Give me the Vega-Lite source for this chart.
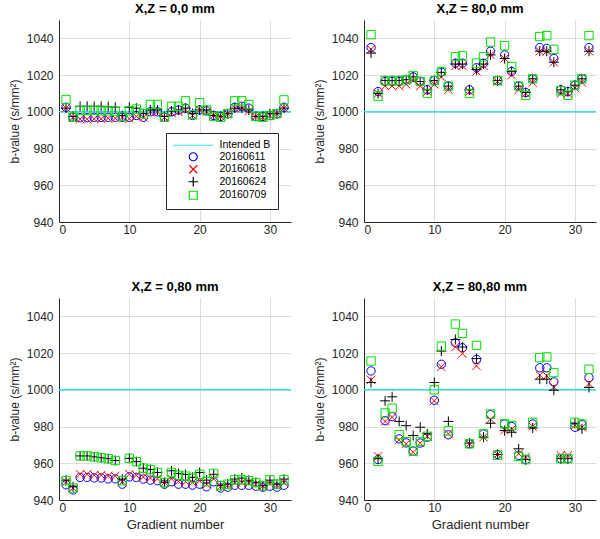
{
  "$schema": "https://vega.github.io/schema/vega-lite/v6.json",
  "padding": {"left": 8, "top": 3, "right": 4, "bottom": 4},
  "config": {
    "view": {"stroke": null},
    "font": "Liberation Sans",
    "axis": {"grid": true, "gridColor": "#dcdcdc", "gridWidth": 1, "domainColor": "#262626", "labelColor": "#262626", "labelFontSize": 12, "titleFontSize": 12, "titleFontWeight": "normal", "titleColor": "#262626", "ticks": false, "format": "d"},
    "axisX": {"labelPadding": 2, "titlePadding": 5},
    "axisY": {"labelPadding": 6, "titlePadding": 5},
    "title": {"fontSize": 13, "fontWeight": "bold", "offset": 4, "color": "#000000"},
    "legend": {"strokeColor": "#262626", "fillColor": "#ffffff"}
  },
  "datasets": {
    "A": [
      {"s":"20160611","g":1,"b":1002.5},{"s":"20160611","g":2,"b":997},{"s":"20160611","g":3,"b":996.8},{"s":"20160611","g":4,"b":996.8},{"s":"20160611","g":5,"b":997},{"s":"20160611","g":6,"b":997},{"s":"20160611","g":7,"b":997},{"s":"20160611","g":8,"b":997},{"s":"20160611","g":9,"b":997},{"s":"20160611","g":10,"b":997},{"s":"20160611","g":11,"b":998},{"s":"20160611","g":12,"b":997},{"s":"20160611","g":13,"b":1000},{"s":"20160611","g":14,"b":1000},{"s":"20160611","g":15,"b":997},{"s":"20160611","g":16,"b":1000},{"s":"20160611","g":17,"b":1001},{"s":"20160611","g":18,"b":1002},{"s":"20160611","g":19,"b":998},{"s":"20160611","g":20,"b":1001},{"s":"20160611","g":21,"b":1000.5},{"s":"20160611","g":22,"b":998},{"s":"20160611","g":23,"b":997.5},{"s":"20160611","g":24,"b":999},{"s":"20160611","g":25,"b":1002.5},{"s":"20160611","g":26,"b":1003},{"s":"20160611","g":27,"b":1002},{"s":"20160611","g":28,"b":997.5},{"s":"20160611","g":29,"b":997.5},{"s":"20160611","g":30,"b":998},{"s":"20160611","g":31,"b":999},{"s":"20160611","g":32,"b":1002.5},
      {"s":"20160618","g":1,"b":1002},{"s":"20160618","g":2,"b":997},{"s":"20160618","g":3,"b":996},{"s":"20160618","g":4,"b":996},{"s":"20160618","g":5,"b":996.2},{"s":"20160618","g":6,"b":996.2},{"s":"20160618","g":7,"b":996.5},{"s":"20160618","g":8,"b":996.5},{"s":"20160618","g":9,"b":997},{"s":"20160618","g":10,"b":996.3},{"s":"20160618","g":11,"b":997.5},{"s":"20160618","g":12,"b":997},{"s":"20160618","g":13,"b":1000},{"s":"20160618","g":14,"b":1000},{"s":"20160618","g":15,"b":997},{"s":"20160618","g":16,"b":999.5},{"s":"20160618","g":17,"b":1000},{"s":"20160618","g":18,"b":1001},{"s":"20160618","g":19,"b":998},{"s":"20160618","g":20,"b":1001},{"s":"20160618","g":21,"b":1000},{"s":"20160618","g":22,"b":998},{"s":"20160618","g":23,"b":997.5},{"s":"20160618","g":24,"b":999},{"s":"20160618","g":25,"b":1002},{"s":"20160618","g":26,"b":1002},{"s":"20160618","g":27,"b":1000.5},{"s":"20160618","g":28,"b":997.5},{"s":"20160618","g":29,"b":997},{"s":"20160618","g":30,"b":998},{"s":"20160618","g":31,"b":999},{"s":"20160618","g":32,"b":1002},
      {"s":"20160624","g":1,"b":1002},{"s":"20160624","g":2,"b":997.5},{"s":"20160624","g":3,"b":1003},{"s":"20160624","g":4,"b":1003},{"s":"20160624","g":5,"b":1003},{"s":"20160624","g":6,"b":1003},{"s":"20160624","g":7,"b":1002.8},{"s":"20160624","g":8,"b":1002.5},{"s":"20160624","g":9,"b":998},{"s":"20160624","g":10,"b":1002.5},{"s":"20160624","g":11,"b":1002},{"s":"20160624","g":12,"b":999},{"s":"20160624","g":13,"b":1001},{"s":"20160624","g":14,"b":1001},{"s":"20160624","g":15,"b":997.5},{"s":"20160624","g":16,"b":1000.5},{"s":"20160624","g":17,"b":1001},{"s":"20160624","g":18,"b":1002},{"s":"20160624","g":19,"b":999},{"s":"20160624","g":20,"b":1001},{"s":"20160624","g":21,"b":1001},{"s":"20160624","g":22,"b":998},{"s":"20160624","g":23,"b":997.5},{"s":"20160624","g":24,"b":999},{"s":"20160624","g":25,"b":1002},{"s":"20160624","g":26,"b":1002},{"s":"20160624","g":27,"b":1001},{"s":"20160624","g":28,"b":997.5},{"s":"20160624","g":29,"b":997.5},{"s":"20160624","g":30,"b":999},{"s":"20160624","g":31,"b":999},{"s":"20160624","g":32,"b":1002},
      {"s":"20160709","g":1,"b":1006.7},{"s":"20160709","g":2,"b":997},{"s":"20160709","g":3,"b":1000.7},{"s":"20160709","g":4,"b":1000.7},{"s":"20160709","g":5,"b":1000.7},{"s":"20160709","g":6,"b":1000.5},{"s":"20160709","g":7,"b":1000.5},{"s":"20160709","g":8,"b":1000.3},{"s":"20160709","g":9,"b":997.5},{"s":"20160709","g":10,"b":1000.5},{"s":"20160709","g":11,"b":1001.5},{"s":"20160709","g":12,"b":999},{"s":"20160709","g":13,"b":1004},{"s":"20160709","g":14,"b":1004},{"s":"20160709","g":15,"b":997},{"s":"20160709","g":16,"b":1003},{"s":"20160709","g":17,"b":1003},{"s":"20160709","g":18,"b":1006},{"s":"20160709","g":19,"b":998.5},{"s":"20160709","g":20,"b":1005},{"s":"20160709","g":21,"b":1001},{"s":"20160709","g":22,"b":997.5},{"s":"20160709","g":23,"b":997},{"s":"20160709","g":24,"b":999},{"s":"20160709","g":25,"b":1006},{"s":"20160709","g":26,"b":1006},{"s":"20160709","g":27,"b":1004},{"s":"20160709","g":28,"b":997.5},{"s":"20160709","g":29,"b":997},{"s":"20160709","g":30,"b":998},{"s":"20160709","g":31,"b":999},{"s":"20160709","g":32,"b":1006.5}
    ],
    "B": [
      {"s":"20160611","g":1,"b":1035},{"s":"20160611","g":2,"b":1011},{"s":"20160611","g":3,"b":1016.5},{"s":"20160611","g":4,"b":1016.5},{"s":"20160611","g":5,"b":1016.5},{"s":"20160611","g":6,"b":1017.5},{"s":"20160611","g":7,"b":1019},{"s":"20160611","g":8,"b":1016.5},{"s":"20160611","g":9,"b":1012},{"s":"20160611","g":10,"b":1017},{"s":"20160611","g":11,"b":1021.6},{"s":"20160611","g":12,"b":1014},{"s":"20160611","g":13,"b":1026.5},{"s":"20160611","g":14,"b":1026.5},{"s":"20160611","g":15,"b":1012},{"s":"20160611","g":16,"b":1024},{"s":"20160611","g":17,"b":1026.5},{"s":"20160611","g":18,"b":1033},{"s":"20160611","g":19,"b":1017},{"s":"20160611","g":20,"b":1031},{"s":"20160611","g":21,"b":1022},{"s":"20160611","g":22,"b":1014},{"s":"20160611","g":23,"b":1010.5},{"s":"20160611","g":24,"b":1018},{"s":"20160611","g":25,"b":1035},{"s":"20160611","g":26,"b":1034.5},{"s":"20160611","g":27,"b":1029},{"s":"20160611","g":28,"b":1012},{"s":"20160611","g":29,"b":1011},{"s":"20160611","g":30,"b":1014.5},{"s":"20160611","g":31,"b":1018},{"s":"20160611","g":32,"b":1035},
      {"s":"20160618","g":1,"b":1034},{"s":"20160618","g":2,"b":1010},{"s":"20160618","g":3,"b":1014},{"s":"20160618","g":4,"b":1014},{"s":"20160618","g":5,"b":1014},{"s":"20160618","g":6,"b":1015},{"s":"20160618","g":7,"b":1017},{"s":"20160618","g":8,"b":1014},{"s":"20160618","g":9,"b":1011},{"s":"20160618","g":10,"b":1015},{"s":"20160618","g":11,"b":1019},{"s":"20160618","g":12,"b":1012},{"s":"20160618","g":13,"b":1025},{"s":"20160618","g":14,"b":1025},{"s":"20160618","g":15,"b":1011},{"s":"20160618","g":16,"b":1022},{"s":"20160618","g":17,"b":1025},{"s":"20160618","g":18,"b":1031},{"s":"20160618","g":19,"b":1016.5},{"s":"20160618","g":20,"b":1029},{"s":"20160618","g":21,"b":1020},{"s":"20160618","g":22,"b":1012},{"s":"20160618","g":23,"b":1010},{"s":"20160618","g":24,"b":1016},{"s":"20160618","g":25,"b":1033},{"s":"20160618","g":26,"b":1033},{"s":"20160618","g":27,"b":1027},{"s":"20160618","g":28,"b":1010},{"s":"20160618","g":29,"b":1010},{"s":"20160618","g":30,"b":1013},{"s":"20160618","g":31,"b":1016},{"s":"20160618","g":32,"b":1033},
      {"s":"20160624","g":1,"b":1032},{"s":"20160624","g":2,"b":1010},{"s":"20160624","g":3,"b":1017},{"s":"20160624","g":4,"b":1017},{"s":"20160624","g":5,"b":1017},{"s":"20160624","g":6,"b":1017.5},{"s":"20160624","g":7,"b":1019},{"s":"20160624","g":8,"b":1016.5},{"s":"20160624","g":9,"b":1012},{"s":"20160624","g":10,"b":1017},{"s":"20160624","g":11,"b":1021.5},{"s":"20160624","g":12,"b":1014},{"s":"20160624","g":13,"b":1026},{"s":"20160624","g":14,"b":1026},{"s":"20160624","g":15,"b":1012},{"s":"20160624","g":16,"b":1023},{"s":"20160624","g":17,"b":1026},{"s":"20160624","g":18,"b":1031},{"s":"20160624","g":19,"b":1017},{"s":"20160624","g":20,"b":1029},{"s":"20160624","g":21,"b":1022},{"s":"20160624","g":22,"b":1014},{"s":"20160624","g":23,"b":1010.5},{"s":"20160624","g":24,"b":1018},{"s":"20160624","g":25,"b":1033},{"s":"20160624","g":26,"b":1033},{"s":"20160624","g":27,"b":1027},{"s":"20160624","g":28,"b":1012},{"s":"20160624","g":29,"b":1011},{"s":"20160624","g":30,"b":1014.5},{"s":"20160624","g":31,"b":1018},{"s":"20160624","g":32,"b":1033},
      {"s":"20160709","g":1,"b":1042},{"s":"20160709","g":2,"b":1008.5},{"s":"20160709","g":3,"b":1017},{"s":"20160709","g":4,"b":1017},{"s":"20160709","g":5,"b":1017},{"s":"20160709","g":6,"b":1017.5},{"s":"20160709","g":7,"b":1019.6},{"s":"20160709","g":8,"b":1016.5},{"s":"20160709","g":9,"b":1010},{"s":"20160709","g":10,"b":1017},{"s":"20160709","g":11,"b":1022},{"s":"20160709","g":12,"b":1014},{"s":"20160709","g":13,"b":1030},{"s":"20160709","g":14,"b":1030.5},{"s":"20160709","g":15,"b":1010},{"s":"20160709","g":16,"b":1026.5},{"s":"20160709","g":17,"b":1030},{"s":"20160709","g":18,"b":1038},{"s":"20160709","g":19,"b":1017},{"s":"20160709","g":20,"b":1036},{"s":"20160709","g":21,"b":1024.7},{"s":"20160709","g":22,"b":1014},{"s":"20160709","g":23,"b":1009},{"s":"20160709","g":24,"b":1018},{"s":"20160709","g":25,"b":1041},{"s":"20160709","g":26,"b":1041.5},{"s":"20160709","g":27,"b":1034},{"s":"20160709","g":28,"b":1011.5},{"s":"20160709","g":29,"b":1009},{"s":"20160709","g":30,"b":1014.5},{"s":"20160709","g":31,"b":1018},{"s":"20160709","g":32,"b":1041.5}
    ],
    "C": [
      {"s":"20160611","g":1,"b":948.3},{"s":"20160611","g":2,"b":945.5},{"s":"20160611","g":3,"b":952.3},{"s":"20160611","g":4,"b":952.3},{"s":"20160611","g":5,"b":952},{"s":"20160611","g":6,"b":952},{"s":"20160611","g":7,"b":951.5},{"s":"20160611","g":8,"b":951.5},{"s":"20160611","g":9,"b":948.6},{"s":"20160611","g":10,"b":952.6},{"s":"20160611","g":11,"b":952.3},{"s":"20160611","g":12,"b":951.4},{"s":"20160611","g":13,"b":950.8},{"s":"20160611","g":14,"b":950.5},{"s":"20160611","g":15,"b":948.6},{"s":"20160611","g":16,"b":949.9},{"s":"20160611","g":17,"b":948.6},{"s":"20160611","g":18,"b":948.6},{"s":"20160611","g":19,"b":948.1},{"s":"20160611","g":20,"b":948.6},{"s":"20160611","g":21,"b":947.2},{"s":"20160611","g":22,"b":949.9},{"s":"20160611","g":23,"b":946.5},{"s":"20160611","g":24,"b":947},{"s":"20160611","g":25,"b":948},{"s":"20160611","g":26,"b":948},{"s":"20160611","g":27,"b":948},{"s":"20160611","g":28,"b":947.5},{"s":"20160611","g":29,"b":947},{"s":"20160611","g":30,"b":947.5},{"s":"20160611","g":31,"b":947},{"s":"20160611","g":32,"b":948},
      {"s":"20160618","g":1,"b":950},{"s":"20160618","g":2,"b":946.5},{"s":"20160618","g":3,"b":954},{"s":"20160618","g":4,"b":954},{"s":"20160618","g":5,"b":953.5},{"s":"20160618","g":6,"b":953.5},{"s":"20160618","g":7,"b":953},{"s":"20160618","g":8,"b":953},{"s":"20160618","g":9,"b":950},{"s":"20160618","g":10,"b":954},{"s":"20160618","g":11,"b":953.5},{"s":"20160618","g":12,"b":952.5},{"s":"20160618","g":13,"b":952},{"s":"20160618","g":14,"b":951.5},{"s":"20160618","g":15,"b":949.5},{"s":"20160618","g":16,"b":951.5},{"s":"20160618","g":17,"b":950},{"s":"20160618","g":18,"b":950},{"s":"20160618","g":19,"b":949.5},{"s":"20160618","g":20,"b":950.5},{"s":"20160618","g":21,"b":948.5},{"s":"20160618","g":22,"b":951.5},{"s":"20160618","g":23,"b":947.5},{"s":"20160618","g":24,"b":948},{"s":"20160618","g":25,"b":949.5},{"s":"20160618","g":26,"b":949.5},{"s":"20160618","g":27,"b":949.5},{"s":"20160618","g":28,"b":948.5},{"s":"20160618","g":29,"b":947.5},{"s":"20160618","g":30,"b":949},{"s":"20160618","g":31,"b":948},{"s":"20160618","g":32,"b":949.5},
      {"s":"20160624","g":1,"b":950.8},{"s":"20160624","g":2,"b":947.2},{"s":"20160624","g":3,"b":964},{"s":"20160624","g":4,"b":964},{"s":"20160624","g":5,"b":963.5},{"s":"20160624","g":6,"b":963},{"s":"20160624","g":7,"b":962.5},{"s":"20160624","g":8,"b":961.5},{"s":"20160624","g":9,"b":951.4},{"s":"20160624","g":10,"b":962.7},{"s":"20160624","g":11,"b":960.9},{"s":"20160624","g":12,"b":957.3},{"s":"20160624","g":13,"b":956.6},{"s":"20160624","g":14,"b":955},{"s":"20160624","g":15,"b":949.6},{"s":"20160624","g":16,"b":955.9},{"s":"20160624","g":17,"b":954.4},{"s":"20160624","g":18,"b":953.9},{"s":"20160624","g":19,"b":952.3},{"s":"20160624","g":20,"b":955},{"s":"20160624","g":21,"b":950.8},{"s":"20160624","g":22,"b":954},{"s":"20160624","g":23,"b":947.8},{"s":"20160624","g":24,"b":948.6},{"s":"20160624","g":25,"b":951.4},{"s":"20160624","g":26,"b":951.9},{"s":"20160624","g":27,"b":950.8},{"s":"20160624","g":28,"b":949.6},{"s":"20160624","g":29,"b":947.8},{"s":"20160624","g":30,"b":950.8},{"s":"20160624","g":31,"b":948.6},{"s":"20160624","g":32,"b":951.4},
      {"s":"20160709","g":1,"b":950.5},{"s":"20160709","g":2,"b":946.5},{"s":"20160709","g":3,"b":964},{"s":"20160709","g":4,"b":964},{"s":"20160709","g":5,"b":963.5},{"s":"20160709","g":6,"b":963},{"s":"20160709","g":7,"b":962.5},{"s":"20160709","g":8,"b":961.5},{"s":"20160709","g":9,"b":950.5},{"s":"20160709","g":10,"b":962.7},{"s":"20160709","g":11,"b":960.9},{"s":"20160709","g":12,"b":957.3},{"s":"20160709","g":13,"b":956.6},{"s":"20160709","g":14,"b":955},{"s":"20160709","g":15,"b":949.5},{"s":"20160709","g":16,"b":955},{"s":"20160709","g":17,"b":953.5},{"s":"20160709","g":18,"b":953},{"s":"20160709","g":19,"b":952},{"s":"20160709","g":20,"b":954},{"s":"20160709","g":21,"b":950},{"s":"20160709","g":22,"b":954.5},{"s":"20160709","g":23,"b":947.8},{"s":"20160709","g":24,"b":948.6},{"s":"20160709","g":25,"b":951},{"s":"20160709","g":26,"b":951},{"s":"20160709","g":27,"b":950.5},{"s":"20160709","g":28,"b":949.5},{"s":"20160709","g":29,"b":947.8},{"s":"20160709","g":30,"b":951},{"s":"20160709","g":31,"b":948.6},{"s":"20160709","g":32,"b":951}
    ],
    "D": [
      {"s":"20160611","g":1,"b":1010.3},{"s":"20160611","g":2,"b":962},{"s":"20160611","g":3,"b":983.2},{"s":"20160611","g":4,"b":985.4},{"s":"20160611","g":5,"b":973.3},{"s":"20160611","g":6,"b":971.1},{"s":"20160611","g":7,"b":966.6},{"s":"20160611","g":8,"b":971},{"s":"20160611","g":9,"b":974.2},{"s":"20160611","g":10,"b":994.3},{"s":"20160611","g":11,"b":1013.9},{"s":"20160611","g":12,"b":975.5},{"s":"20160611","g":13,"b":1025.6},{"s":"20160611","g":14,"b":1022.9},{"s":"20160611","g":15,"b":970.6},{"s":"20160611","g":16,"b":1016.6},{"s":"20160611","g":17,"b":976},{"s":"20160611","g":18,"b":986.5},{"s":"20160611","g":19,"b":964.8},{"s":"20160611","g":20,"b":981.4},{"s":"20160611","g":21,"b":980},{"s":"20160611","g":22,"b":964.3},{"s":"20160611","g":23,"b":962},{"s":"20160611","g":24,"b":981.4},{"s":"20160611","g":25,"b":1012},{"s":"20160611","g":26,"b":1012},{"s":"20160611","g":27,"b":1004.3},{"s":"20160611","g":28,"b":962.5},{"s":"20160611","g":29,"b":962.5},{"s":"20160611","g":30,"b":979.6},{"s":"20160611","g":31,"b":981},{"s":"20160611","g":32,"b":1006.7},
      {"s":"20160618","g":1,"b":1005.4},{"s":"20160618","g":2,"b":963.8},{"s":"20160618","g":3,"b":982.8},{"s":"20160618","g":4,"b":985},{"s":"20160618","g":5,"b":972.7},{"s":"20160618","g":6,"b":970.6},{"s":"20160618","g":7,"b":966},{"s":"20160618","g":8,"b":971},{"s":"20160618","g":9,"b":974.7},{"s":"20160618","g":10,"b":994},{"s":"20160618","g":11,"b":1012.5},{"s":"20160618","g":12,"b":976},{"s":"20160618","g":13,"b":1023.3},{"s":"20160618","g":14,"b":1019.7},{"s":"20160618","g":15,"b":970.6},{"s":"20160618","g":16,"b":1013},{"s":"20160618","g":17,"b":974.2},{"s":"20160618","g":18,"b":984},{"s":"20160618","g":19,"b":964.8},{"s":"20160618","g":20,"b":978},{"s":"20160618","g":21,"b":978.5},{"s":"20160618","g":22,"b":965.2},{"s":"20160618","g":23,"b":963.4},{"s":"20160618","g":24,"b":980},{"s":"20160618","g":25,"b":1008},{"s":"20160618","g":26,"b":1007.6},{"s":"20160618","g":27,"b":1001.6},{"s":"20160618","g":28,"b":964.3},{"s":"20160618","g":29,"b":964.3},{"s":"20160618","g":30,"b":980.5},{"s":"20160618","g":31,"b":979.6},{"s":"20160618","g":32,"b":1003.4},
      {"s":"20160624","g":1,"b":1004},{"s":"20160624","g":2,"b":962.5},{"s":"20160624","g":3,"b":994},{"s":"20160624","g":4,"b":996.2},{"s":"20160624","g":5,"b":982.8},{"s":"20160624","g":6,"b":980.5},{"s":"20160624","g":7,"b":975.1},{"s":"20160624","g":8,"b":979.6},{"s":"20160624","g":9,"b":976},{"s":"20160624","g":10,"b":1004},{"s":"20160624","g":11,"b":1021.1},{"s":"20160624","g":12,"b":982.8},{"s":"20160624","g":13,"b":1027.4},{"s":"20160624","g":14,"b":1023.3},{"s":"20160624","g":15,"b":971},{"s":"20160624","g":16,"b":1017},{"s":"20160624","g":17,"b":974.2},{"s":"20160624","g":18,"b":981.8},{"s":"20160624","g":19,"b":964.8},{"s":"20160624","g":20,"b":977.8},{"s":"20160624","g":21,"b":976.9},{"s":"20160624","g":22,"b":967.9},{"s":"20160624","g":23,"b":962},{"s":"20160624","g":24,"b":979.2},{"s":"20160624","g":25,"b":1005.8},{"s":"20160624","g":26,"b":1005.8},{"s":"20160624","g":27,"b":999.8},{"s":"20160624","g":28,"b":962.5},{"s":"20160624","g":29,"b":962.5},{"s":"20160624","g":30,"b":981.8},{"s":"20160624","g":31,"b":978.7},{"s":"20160624","g":32,"b":1001.3},
      {"s":"20160709","g":1,"b":1015.7},{"s":"20160709","g":2,"b":961},{"s":"20160709","g":3,"b":987.4},{"s":"20160709","g":4,"b":990},{"s":"20160709","g":5,"b":975.6},{"s":"20160709","g":6,"b":971.8},{"s":"20160709","g":7,"b":966.6},{"s":"20160709","g":8,"b":971.9},{"s":"20160709","g":9,"b":974.7},{"s":"20160709","g":10,"b":1000},{"s":"20160709","g":11,"b":1023.8},{"s":"20160709","g":12,"b":977.8},{"s":"20160709","g":13,"b":1035.8},{"s":"20160709","g":14,"b":1030.7},{"s":"20160709","g":15,"b":970.6},{"s":"20160709","g":16,"b":1024.2},{"s":"20160709","g":17,"b":976},{"s":"20160709","g":18,"b":986.8},{"s":"20160709","g":19,"b":964.3},{"s":"20160709","g":20,"b":981.5},{"s":"20160709","g":21,"b":980.5},{"s":"20160709","g":22,"b":963.8},{"s":"20160709","g":23,"b":962},{"s":"20160709","g":24,"b":982.3},{"s":"20160709","g":25,"b":1017.5},{"s":"20160709","g":26,"b":1017.9},{"s":"20160709","g":27,"b":1009.4},{"s":"20160709","g":28,"b":962.5},{"s":"20160709","g":29,"b":962.5},{"s":"20160709","g":30,"b":982.3},{"s":"20160709","g":31,"b":981.4},{"s":"20160709","g":32,"b":1011.2}
    ]
  },
  "spacing": 46,
  "resolve": {"legend": {"color": "independent", "shape": "independent"}},
  "vconcat": [
    {
      "bounds": "flush",
      "spacing": 73,
      "resolve": {"legend": {"color": "independent", "shape": "independent"}},
      "hconcat": [
        {
          "title": "X,Z = 0,0 mm",
          "width": 232, "height": 202,
          "layer": [
            {"data": {"values": [{}]}, "mark": {"type": "rule", "color": "#2ee6f0", "strokeWidth": 1.5},
             "encoding": {"y": {"datum": 1000, "type": "quantitative", "scale": {"domain": [940, 1050], "nice": false, "zero": false}, "title": "b-value (s/mm²)"}}},
            {"data": {"name": "A"}, "mark": {"type": "point", "filled": false, "size": 70, "strokeWidth": 1, "opacity": 1},
             "encoding": {
               "x": {"field": "g", "type": "quantitative", "scale": {"domain": [0, 33], "nice": false, "zero": false}, "axis": {"values": [0, 10, 20, 30], "title": null}},
               "y": {"field": "b", "type": "quantitative", "scale": {"domain": [940, 1050], "nice": false, "zero": false}, "axis": {"values": [940, 960, 980, 1000, 1020, 1040], "title": "b-value (s/mm²)"}},
               "color": {"field": "s", "type": "nominal", "sort": null,
                 "scale": {"domain": ["Intended B", "20160611", "20160618", "20160624", "20160709"], "range": ["#2ee6f0", "#0000ff", "#ff0000", "#000000", "#00e000"]},
                 "legend": {"orient": "bottom-right", "offset": 13, "title": null, "labelFontSize": 10.5, "labelColor": "#000000", "symbolSize": 64, "symbolStrokeWidth": 1.2, "strokeColor": "#262626", "fillColor": "#ffffff", "padding": 7, "rowPadding": -1.5, "symbolOffset": 15, "labelOffset": 21,
                   "encode": {
                     "symbols": {"update": {"shape": {"signal": "datum.value === 'Intended B' ? 'M-5,0L5,0' : datum.value === '20160611' ? 'circle' : datum.value === '20160618' ? 'M-1,-1L1,1M-1,1L1,-1' : datum.value === '20160624' ? 'M-1.2,0L1.2,0M0,-1.2L0,1.2' : 'square'"}}}
                   }}},
               "shape": {"field": "s", "type": "nominal", "sort": null,
                 "scale": {"domain": ["Intended B", "20160611", "20160618", "20160624", "20160709"], "range": ["M-5,0L5,0", "circle", "M-1,-1L1,1M-1,1L1,-1", "M-1.2,0L1.2,0M0,-1.2L0,1.2", "square"]}, "legend": null}
             }}
          ]
        },
        {
          "title": "X,Z = 80,0 mm",
          "width": 232, "height": 202,
          "layer": [
            {"data": {"values": [{}]}, "mark": {"type": "rule", "color": "#2ee6f0", "strokeWidth": 1.5},
             "encoding": {"y": {"datum": 1000, "type": "quantitative", "scale": {"domain": [940, 1050], "nice": false, "zero": false}, "title": "b-value (s/mm²)"}}},
            {"data": {"name": "B"}, "mark": {"type": "point", "filled": false, "size": 70, "strokeWidth": 1, "opacity": 1},
             "encoding": {
               "x": {"field": "g", "type": "quantitative", "scale": {"domain": [0, 33], "nice": false, "zero": false}, "axis": {"values": [0, 10, 20, 30], "title": null}},
               "y": {"field": "b", "type": "quantitative", "scale": {"domain": [940, 1050], "nice": false, "zero": false}, "axis": {"values": [940, 960, 980, 1000, 1020, 1040], "title": "b-value (s/mm²)"}},
               "color": {"field": "s", "type": "nominal", "sort": null,
                 "scale": {"domain": ["Intended B", "20160611", "20160618", "20160624", "20160709"], "range": ["#2ee6f0", "#0000ff", "#ff0000", "#000000", "#00e000"]}, "legend": null},
               "shape": {"field": "s", "type": "nominal", "sort": null,
                 "scale": {"domain": ["Intended B", "20160611", "20160618", "20160624", "20160709"], "range": ["M-5,0L5,0", "circle", "M-1,-1L1,1M-1,1L1,-1", "M-1.2,0L1.2,0M0,-1.2L0,1.2", "square"]}, "legend": null}
             }}
          ]
        }
      ]
    },
    {
      "bounds": "flush",
      "spacing": 73,
      "resolve": {"legend": {"color": "independent", "shape": "independent"}},
      "hconcat": [
        {
          "title": "X,Z = 0,80 mm",
          "width": 232, "height": 202,
          "layer": [
            {"data": {"values": [{}]}, "mark": {"type": "rule", "color": "#2ee6f0", "strokeWidth": 1.5},
             "encoding": {"y": {"datum": 1000, "type": "quantitative", "scale": {"domain": [940, 1050], "nice": false, "zero": false}, "title": "b-value (s/mm²)"}}},
            {"data": {"name": "C"}, "mark": {"type": "point", "filled": false, "size": 70, "strokeWidth": 1, "opacity": 1},
             "encoding": {
               "x": {"field": "g", "type": "quantitative", "scale": {"domain": [0, 33], "nice": false, "zero": false}, "axis": {"values": [0, 10, 20, 30], "title": "Gradient number", "titleFontSize": 13}},
               "y": {"field": "b", "type": "quantitative", "scale": {"domain": [940, 1050], "nice": false, "zero": false}, "axis": {"values": [940, 960, 980, 1000, 1020, 1040], "title": "b-value (s/mm²)"}},
               "color": {"field": "s", "type": "nominal", "sort": null,
                 "scale": {"domain": ["Intended B", "20160611", "20160618", "20160624", "20160709"], "range": ["#2ee6f0", "#0000ff", "#ff0000", "#000000", "#00e000"]}, "legend": null},
               "shape": {"field": "s", "type": "nominal", "sort": null,
                 "scale": {"domain": ["Intended B", "20160611", "20160618", "20160624", "20160709"], "range": ["M-5,0L5,0", "circle", "M-1,-1L1,1M-1,1L1,-1", "M-1.2,0L1.2,0M0,-1.2L0,1.2", "square"]}, "legend": null}
             }}
          ]
        },
        {
          "title": "X,Z = 80,80 mm",
          "width": 232, "height": 202,
          "layer": [
            {"data": {"values": [{}]}, "mark": {"type": "rule", "color": "#2ee6f0", "strokeWidth": 1.5},
             "encoding": {"y": {"datum": 1000, "type": "quantitative", "scale": {"domain": [940, 1050], "nice": false, "zero": false}, "title": "b-value (s/mm²)"}}},
            {"data": {"name": "D"}, "mark": {"type": "point", "filled": false, "size": 70, "strokeWidth": 1, "opacity": 1},
             "encoding": {
               "x": {"field": "g", "type": "quantitative", "scale": {"domain": [0, 33], "nice": false, "zero": false}, "axis": {"values": [0, 10, 20, 30], "title": "Gradient number", "titleFontSize": 13}},
               "y": {"field": "b", "type": "quantitative", "scale": {"domain": [940, 1050], "nice": false, "zero": false}, "axis": {"values": [940, 960, 980, 1000, 1020, 1040], "title": "b-value (s/mm²)"}},
               "color": {"field": "s", "type": "nominal", "sort": null,
                 "scale": {"domain": ["Intended B", "20160611", "20160618", "20160624", "20160709"], "range": ["#2ee6f0", "#0000ff", "#ff0000", "#000000", "#00e000"]}, "legend": null},
               "shape": {"field": "s", "type": "nominal", "sort": null,
                 "scale": {"domain": ["Intended B", "20160611", "20160618", "20160624", "20160709"], "range": ["M-5,0L5,0", "circle", "M-1,-1L1,1M-1,1L1,-1", "M-1.2,0L1.2,0M0,-1.2L0,1.2", "square"]}, "legend": null}
             }}
          ]
        }
      ]
    }
  ]
}
